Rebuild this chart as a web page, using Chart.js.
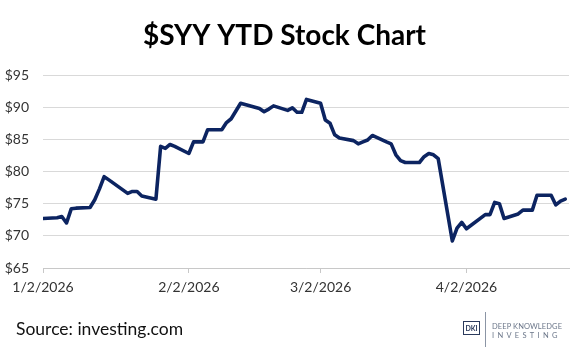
<!DOCTYPE html>
<html>
<head>
<meta charset="utf-8">
<script src="https://cdn.jsdelivr.net/npm/chart.js@4/dist/chart.umd.min.js"></script>
<style>
  html, body { margin: 0; padding: 0; background: #fff; }
  #wrap { position: relative; width: 583px; height: 357px; overflow: hidden; }
  #c { position: absolute; left: 0; top: 0; }
  .src { position: absolute; left: 16px; top: 318px; font-family: Lato, sans-serif; font-size: 17.5px; color: #111; }
  .dki { position: absolute; left: 463px; top: 321px; width: 15px; height: 12px; border: 1px solid #2b3a5c; font-family: Lato, sans-serif; font-weight: bold; font-size: 7px; line-height: 12px; text-align: center; color: #2b3a5c; }
  .vbar { position: absolute; left: 485px; top: 312px; width: 1px; height: 35px; background: #8b95a5; }
  .l1 { position: absolute; left: 492px; top: 322px; font-family: Lato, sans-serif; font-size: 7.5px; color: #6b7689; letter-spacing: 0.1px; }
  .l2 { position: absolute; left: 492px; top: 331px; font-family: Lato, sans-serif; font-size: 7.5px; color: #6b7689; letter-spacing: 3.3px; }
</style>
</head>
<body>
<div id="wrap">
  <canvas id="c" width="583" height="357"></canvas>
  <div class="src">Source: investing.com</div>
  <div class="dki">DKI</div>
  <div class="vbar"></div>
  <div class="l1">DEEP KNOWLEDGE</div>
  <div class="l2">INVESTING</div>
</div>
<script>
// ---- data ----
const titleText = "$SYY YTD Stock Chart";
const dates = [
  "2026-01-02","2026-01-05","2026-01-06","2026-01-07","2026-01-08","2026-01-09",
  "2026-01-12","2026-01-13","2026-01-14","2026-01-15","2026-01-16",
  "2026-01-20","2026-01-21","2026-01-22","2026-01-23",
  "2026-01-26","2026-01-27","2026-01-28","2026-01-29","2026-01-30",
  "2026-02-02","2026-02-03","2026-02-04","2026-02-05","2026-02-06",
  "2026-02-09","2026-02-10","2026-02-11","2026-02-12","2026-02-13",
  "2026-02-17","2026-02-18","2026-02-19","2026-02-20",
  "2026-02-23","2026-02-24","2026-02-25","2026-02-26","2026-02-27",
  "2026-03-02","2026-03-03","2026-03-04","2026-03-05","2026-03-06",
  "2026-03-09","2026-03-10","2026-03-11","2026-03-12","2026-03-13",
  "2026-03-16","2026-03-17","2026-03-18","2026-03-19","2026-03-20",
  "2026-03-23","2026-03-24","2026-03-25","2026-03-26","2026-03-27",
  "2026-03-30","2026-03-31","2026-04-01","2026-04-02",
  "2026-04-06","2026-04-07","2026-04-08","2026-04-09","2026-04-10",
  "2026-04-13","2026-04-14","2026-04-15","2026-04-16","2026-04-17",
  "2026-04-20","2026-04-21","2026-04-22","2026-04-23"
];
const prices = [
  72.7, 72.8, 73.0, 72.0, 74.2, 74.3,
  74.4, 75.6, 77.3, 79.2, 78.7,
  76.6, 76.9, 76.9, 76.2,
  75.7, 83.9, 83.6, 84.2, 83.9,
  82.8, 84.6, 84.6, 84.6, 86.5,
  86.5, 87.6, 88.2, 89.4, 90.6,
  89.8, 89.3, 89.7, 90.2,
  89.5, 89.9, 89.2, 89.2, 91.2,
  90.6, 88.0, 87.5, 85.7, 85.2,
  84.8, 84.3, 84.6, 84.9, 85.6,
  84.6, 84.3, 82.6, 81.7, 81.4,
  81.4, 82.3, 82.8, 82.6, 82.0,
  69.2, 71.2, 72.1, 71.1,
  73.3, 73.3, 75.2, 75.0, 72.7,
  73.4, 74.0, 74.0, 74.0, 76.3,
  76.3, 74.8, 75.4, 75.7
];
const tickDates = ["2026-01-02","2026-02-02","2026-03-02","2026-04-02"];
const tickLabels = ["1/2/2026","2/2/2026","3/2/2026","4/2/2026"];
const yTicks = [65, 70, 75, 80, 85, 90, 95];

// ---- helpers ----
function dayIndex(s) {
  const [y, m, d] = s.split("-").map(Number);
  return (Date.UTC(y, m - 1, d) - Date.UTC(2026, 0, 2)) / 86400000;
}
const points = dates.map((d, i) => ({ x: dayIndex(d), y: prices[i] }));
const tickPos = tickDates.map(dayIndex);

new Chart(document.getElementById("c"), {
  type: "line",
  data: {
    datasets: [{
      data: points,
      borderColor: "#0c2461",
      borderWidth: 3.6,
      pointRadius: 0,
      tension: 0,
      borderJoinStyle: "round",
      borderCapStyle: "round"
    }]
  },
  options: {
    responsive: false,
    animation: false,
    layout: { padding: { left: 0, right: 14, top: 0, bottom: 0 } },
    plugins: {
      legend: { display: false },
      tooltip: { enabled: false },
      title: {
        display: true,
        text: titleText,
        color: "#000",
        font: { family: "Lato", size: 28, weight: "bold", lineHeight: 1.2 },
        padding: { top: 19, bottom: 22.4 }
      }
    },
    scales: {
      x: {
        type: "linear",
        min: 0,
        max: 111.8,
        afterBuildTicks: (s) => { s.ticks = tickPos.map(v => ({ value: v })); },
        afterFit: (s) => { s.height = 89; },
        ticks: {
          callback: (v) => { const i = tickPos.indexOf(v); return i >= 0 ? tickLabels[i] : ""; },
          color: "#333",
          font: { family: "Lato", size: 14 },
          padding: 6,
          maxRotation: 0,
          autoSkip: false
        },
        grid: { drawOnChartArea: false, drawTicks: true, tickLength: 5, color: "#c8c8c8" },
        border: { display: true, color: "#c8c8c8", width: 1 }
      },
      y: {
        min: 65,
        max: 95,
        afterBuildTicks: (s) => { s.ticks = yTicks.map(v => ({ value: v })); },
        afterFit: (s) => { s.width = 43; },
        ticks: {
          callback: (v) => "$" + v,
          color: "#333",
          font: { family: "Lato", size: 14 },
          padding: 14
        },
        grid: { color: "#d9d9d9", drawTicks: false },
        border: { display: false }
      }
    }
  }
});
</script>
</body>
</html>
